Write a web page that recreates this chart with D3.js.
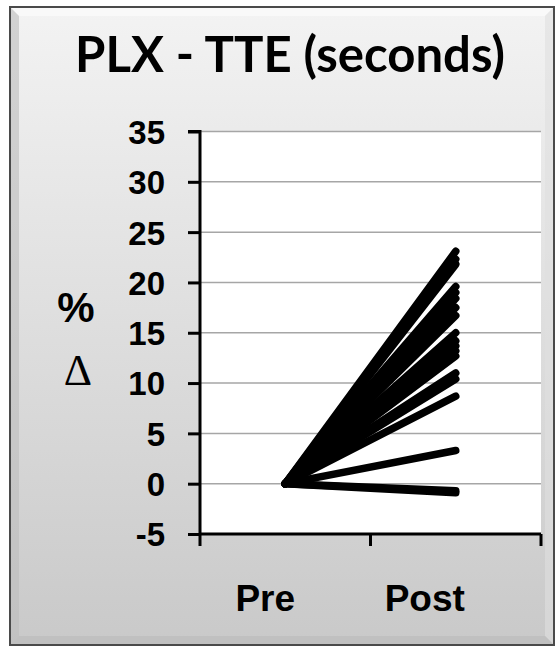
<!DOCTYPE html>
<html><head><meta charset="utf-8">
<script src="https://cdn.jsdelivr.net/npm/d3@7"></script>
<style>html,body{margin:0;padding:0;background:#fff;}svg{display:block;}</style>
</head><body>
<script>
const categories = ["Pre", "Post"];
const preValues  = [0,0,0,0,0,0,0,0,0,0,0,0,0,0,0,0,0,0,0];
const postValues = [23.1, 22.3, 21.8, 19.6, 19.0, 18.4, 17.5, 16.7, 15.0, 14.2, 13.7, 13.2, 12.7, 11.0, 10.4, 8.7, 3.3, -0.7, -0.9];
const yTicks = [-5, 0, 5, 10, 15, 20, 25, 30, 35];
const titleText = "PLX - TTE (seconds)";

const W = 559, H = 647;
const svg = d3.select("body").append("svg").attr("width", W).attr("height", H);
const defs = svg.append("defs");
const g1 = defs.append("linearGradient").attr("id","bg").attr("x1",0).attr("y1",0).attr("x2",0).attr("y2",1);
g1.append("stop").attr("offset","0%").attr("stop-color","#f3f3f3");
g1.append("stop").attr("offset","100%").attr("stop-color","#c9c9c9");

// frame
const fx0 = 10, fy0 = 7, fx1 = 554, fy1 = 645, bev = 9;
svg.append("rect").attr("x",fx0).attr("y",fy0).attr("width",fx1-fx0).attr("height",fy1-fy0)
  .attr("fill","url(#bg)");
svg.append("polygon").attr("points",[[fx0,fy0],[fx1,fy0],[fx1-bev,fy0+bev],[fx0+bev,fy0+bev]].join(" "))
  .attr("fill","#fafafa").attr("opacity",0.8);
svg.append("polygon").attr("points",[[fx0,fy0],[fx0+bev,fy0+bev],[fx0+bev,fy1-bev],[fx0,fy1]].join(" "))
  .attr("fill","#bdbdbd").attr("opacity",0.6);
svg.append("polygon").attr("points",[[fx1,fy0],[fx1,fy1],[fx1-bev,fy1-bev],[fx1-bev,fy0+bev]].join(" "))
  .attr("fill","#e0e0e0").attr("opacity",0.6);
svg.append("polygon").attr("points",[[fx0,fy1],[fx0+bev,fy1-bev],[fx1-bev,fy1-bev],[fx1,fy1]].join(" "))
  .attr("fill","#bcbcbc").attr("opacity",0.7);
svg.append("rect").attr("x",fx0).attr("y",fy0).attr("width",fx1-fx0).attr("height",fy1-fy0)
  .attr("fill","none").attr("stroke","#4a4a4a").attr("stroke-width",2);

// scales
const x = d3.scaleBand().domain(categories).range([200, 541]).padding(0);
const y = d3.scaleLinear().domain([-5, 35]).range([534, 131.5]);
const cx = c => x(c) + x.bandwidth()/2;

// plot area
svg.append("rect").attr("x",200).attr("y",y(35)).attr("width",341).attr("height",y(-5)-y(35)).attr("fill","#fff");

// gridlines
svg.append("g").selectAll("line").data(yTicks.filter(d => d > -5)).join("line")
  .attr("x1",200).attr("x2",541).attr("y1",d=>y(d)).attr("y2",d=>y(d))
  .attr("stroke","#a6a6a6").attr("stroke-width",1.5);

// lines
const pairs = postValues.map((v,i)=>({pre: preValues[i], post: v}));
svg.append("g").selectAll("line").data(pairs).join("line")
  .attr("x1",cx("Pre")).attr("y1",d=>y(d.pre))
  .attr("x2",cx("Post")).attr("y2",d=>y(d.post))
  .attr("stroke","#000").attr("stroke-width",7.5).attr("stroke-linecap","round");

// y axis
const yAxis = svg.append("g").attr("transform","translate(200,0)")
  .call(d3.axisLeft(y).tickValues(yTicks).tickSize(12).tickPadding(23).tickFormat(d => String(d)));
yAxis.select(".domain").attr("stroke","#000").attr("stroke-width",3).attr("d", `M-12,${y(35)}H0V${y(-5)}`);
yAxis.selectAll(".tick line").attr("stroke","#000").attr("stroke-width",3);
yAxis.selectAll(".tick text").attr("font-family","'Liberation Sans', Arial, sans-serif")
  .attr("font-weight","bold").attr("font-size",33).attr("fill","#000").attr("dy","0.36em");

// x axis
const xAxis = svg.append("g").attr("transform",`translate(0,${y(-5)})`);
xAxis.append("line").attr("x1",200).attr("x2",541).attr("y1",0).attr("y2",0).attr("stroke","#000").attr("stroke-width",3);
const edges = [x("Pre"), x("Post"), x("Post")+x.bandwidth()];
xAxis.selectAll("line.t").data(edges).join("line").attr("class","t")
  .attr("x1",d=>d).attr("x2",d=>d).attr("y1",0).attr("y2",12).attr("stroke","#000").attr("stroke-width",3);
const labelShift = {Pre: -20, Post: -31};
xAxis.selectAll("text").data(categories).join("text")
  .attr("x",d=>cx(d)+labelShift[d]).attr("y",77).attr("text-anchor","middle")
  .attr("font-family","'Liberation Sans', Arial, sans-serif").attr("font-weight","bold").attr("font-size",37)
  .text(d=>d);

// y label
svg.append("text").attr("x",76).attr("y",322).attr("text-anchor","middle")
  .attr("font-family","'Liberation Sans', Arial, sans-serif").attr("font-weight","bold").attr("font-size",42).text("%");
svg.append("text").attr("x",78).attr("y",385).attr("text-anchor","middle")
  .attr("font-family","'Liberation Serif', 'Times New Roman', serif").attr("font-size",44).text("\u0394");

// title
const t = svg.append("text").attr("x",290).attr("y",72).attr("text-anchor","middle")
  .attr("font-family","Lato, 'Open Sans', sans-serif").attr("font-weight","bold").attr("font-size",42).text(titleText);
const len = t.node().getComputedTextLength();
t.attr("font-size", 42 * 430 / len);
</script>
</body></html>
